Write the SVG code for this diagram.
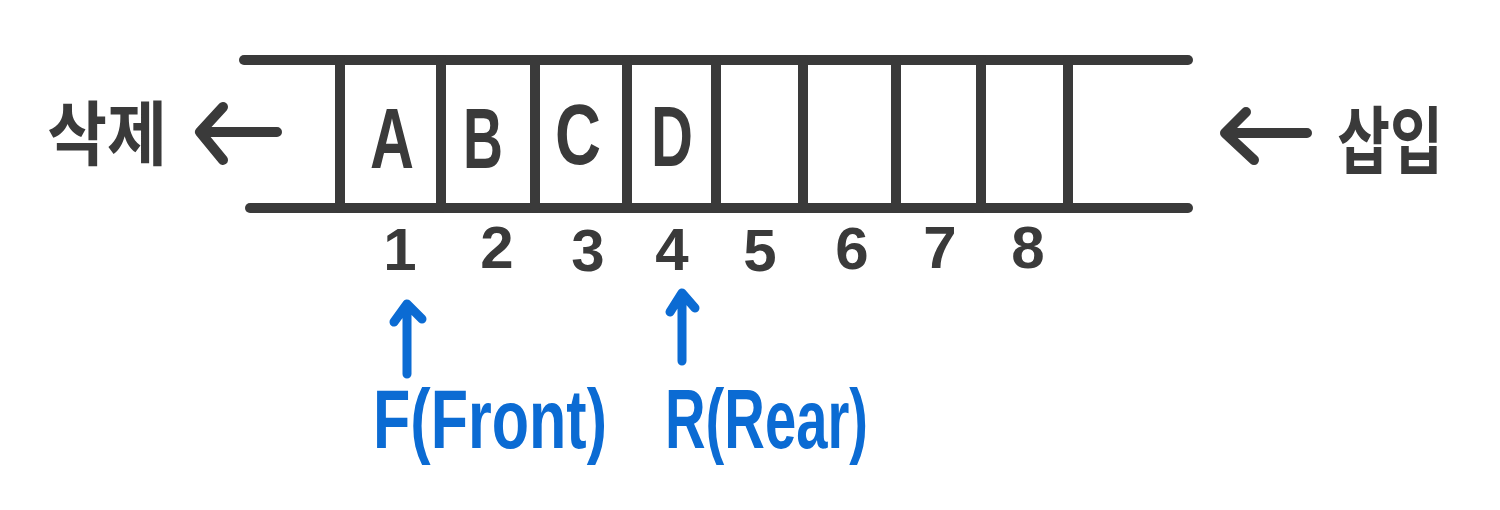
<svg xmlns="http://www.w3.org/2000/svg" width="1500" height="510" viewBox="0 0 1500 510">
<style>
.ln{stroke:#3a3a3a;stroke-width:10;stroke-linecap:round;stroke-linejoin:round;fill:none}
.bl{stroke:#0b6bd3;stroke-width:9;stroke-linecap:round;stroke-linejoin:round;fill:none}
.let{font-family:"Liberation Sans",Arial,sans-serif;font-weight:bold;fill:#3a3a3a;text-anchor:middle}
.ko{font-family:"Noto Sans CJK KR",sans-serif;font-weight:bold;fill:#3a3a3a;text-anchor:middle}
.bt{font-family:"Liberation Sans",Arial,sans-serif;font-weight:bold;fill:#0b6bd3}
</style>
<rect width="1500" height="510" fill="#ffffff"/>
<g id="queue">
<line class="ln" x1="244" y1="60" x2="1188" y2="60"/>
<line class="ln" x1="250" y1="208" x2="1188" y2="208"/>
<line class="ln" x1="340" y1="60" x2="340" y2="208"/>
<line class="ln" x1="441" y1="60" x2="441" y2="208"/>
<line class="ln" x1="535" y1="60" x2="535" y2="208"/>
<line class="ln" x1="627" y1="60" x2="627" y2="208"/>
<line class="ln" x1="716" y1="60" x2="716" y2="208"/>
<line class="ln" x1="803" y1="60" x2="803" y2="208"/>
<line class="ln" x1="896" y1="60" x2="896" y2="208"/>
<line class="ln" x1="981" y1="60" x2="981" y2="208"/>
<line class="ln" x1="1068" y1="60" x2="1068" y2="208"/>
</g>
<g id="items" font-size="86">
<text class="let" x="392" y="168" textLength="44" lengthAdjust="spacingAndGlyphs">A</text>
<text class="let" x="483" y="168" textLength="40" lengthAdjust="spacingAndGlyphs">B</text>
<text class="let" x="578" y="164" textLength="46" lengthAdjust="spacingAndGlyphs">C</text>
<text class="let" x="672" y="166" textLength="42" lengthAdjust="spacingAndGlyphs">D</text>
</g>
<g id="indices" font-size="60">
<text class="let" x="400" y="270">1</text>
<text class="let" x="497" y="268">2</text>
<text class="let" x="588" y="271">3</text>
<text class="let" x="672" y="270">4</text>
<text class="let" x="760" y="271">5</text>
<text class="let" x="852" y="269">6</text>
<text class="let" x="940" y="268">7</text>
<text class="let" x="1028" y="268">8</text>
</g>
<g id="delete">
<text class="ko" x="107" y="160" font-size="70" textLength="120" lengthAdjust="spacingAndGlyphs">삭제</text>
</g>
<g id="insert">
<text class="ko" x="1390" y="168" font-size="74" textLength="106" lengthAdjust="spacingAndGlyphs">삽입</text>
</g>
<g id="front">
<text class="bt" x="373" y="448" font-size="84" textLength="234" lengthAdjust="spacingAndGlyphs">F(Front)</text>
</g>
<g id="rear">
<text class="bt" x="665" y="448" font-size="84" textLength="203" lengthAdjust="spacingAndGlyphs">R(Rear)</text>
</g>
<g id="connectors">
<path class="ln" d="M277 132 L200 132 M223 107 L200 132 L223 160"/>
<path class="ln" d="M1307 133 L1225 133 M1246 112 L1225 133 L1254 160"/>
<path class="bl" d="M407 374 L407 304 M394 322 L407 304 L422 319"/>
<path class="bl" d="M682 361 L682 293 M670 312 L682 293 L695 308"/>
</g>
</svg>
